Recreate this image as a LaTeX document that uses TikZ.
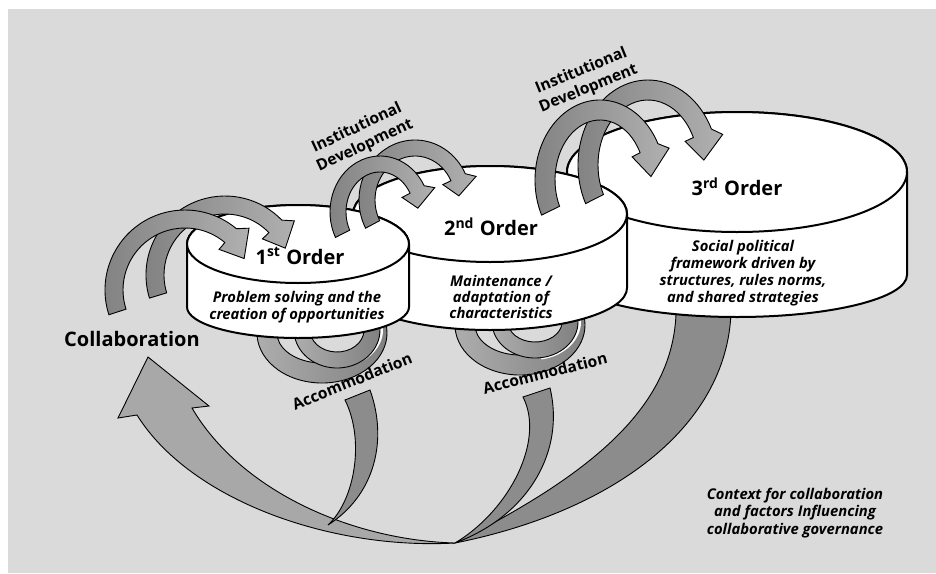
\documentclass[tikz,border=0pt]{standalone}
\usepackage{fontspec}
\setmainfont{Open Sans}
\usepackage{xcolor}

\definecolor{bggray}{RGB}{218,218,218}
\definecolor{banddark}{RGB}{128,128,128}
\definecolor{bandlight}{RGB}{176,176,176}
\definecolor{flowgray}{RGB}{140,140,140}
\definecolor{backgray}{RGB}{168,168,168}

% cylinder: cx, top cy, rx, top ry, bottom cy, bottom ry
\newcommand{\cyl}[6]{%
  \path[cylface] (#1-#3,#2) arc[start angle=180,end angle=360,x radius=#3,y radius=#4]
    -- (#1+#3,#5) arc[start angle=0,end angle=180,x radius=#3,y radius=#6] -- cycle;
  \draw[cylface] (#1,#2) ellipse[x radius=#3,y radius=#4];}

% curved band with a head: cx, cy, rx, ry, width, from, to, tip angle
\newcommand{\bandarrow}[8]{%
  \pgfmathsetmacro\rxo{#3+#5/2}\pgfmathsetmacro\ryo{#4+#5/2}%
  \pgfmathsetmacro\rxi{#3-#5/2}\pgfmathsetmacro\ryi{#4-#5/2}%
  \pgfmathsetmacro\rxh{#3+#5/2+9}\pgfmathsetmacro\ryh{#4+#5/2+9}%
  \pgfmathsetmacro\rxb{#3-#5/2-9}\pgfmathsetmacro\ryb{#4-#5/2-9}%
  \pgfmathsetmacro\rxt{#3-4}\pgfmathsetmacro\ryt{#4-4}%
  \pgfmathsetmacro\ah{#7+6}%
  \path[band,shift={(#1,#2)}] (#6:{\rxo} and {\ryo})
    arc[start angle=#6,end angle=#7,x radius=\rxo,y radius=\ryo]
    -- (\ah:{\rxh} and {\ryh}) -- (#8:{\rxt} and {\ryt}) -- (#7:{\rxb} and {\ryb})
    -- (#7:{\rxi} and {\ryi})
    arc[start angle=#7,end angle=#6,x radius=\rxi,y radius=\ryi] -- cycle;}

% open loop under a cylinder: cx, cy, rx, ry, width, from, to, style
\newcommand{\loopband}[8]{%
  \pgfmathsetmacro\rxo{#3+#5/2}\pgfmathsetmacro\ryo{#4+#5/2}%
  \pgfmathsetmacro\rxi{#3-#5/2}\pgfmathsetmacro\ryi{#4-#5/2}%
  \path[#8,shift={(#1,#2)}] (#6:{\rxo} and {\ryo})
    arc[start angle=#6,end angle=#7,x radius=\rxo,y radius=\ryo]
    -- (#7:{\rxi} and {\ryi})
    arc[start angle=#7,end angle=#6,x radius=\rxi,y radius=\ryi] -- cycle;}

\begin{document}
\begin{tikzpicture}[x=0.5pt,y=-0.5pt]
  \tikzset{cylface/.style={draw=black, fill=white, line width=1pt},
    band/.style={draw=black, line width=.45pt, left color=banddark, right color=bandlight},
    loopgray/.style={draw=black, line width=.45pt, left color=bandlight, right color=banddark},
    loopwhite/.style={fill=white},
    flow/.style={draw=black, line width=.45pt, fill=flowgray},
    backarrow/.style={draw=black, line width=.45pt, fill=backgray},
    order/.style={font=\bfseries\fontsize{10}{12}\selectfont, inner sep=0pt},
    desc/.style={font=\bfseries\itshape\fontsize{7.4}{8.2}\selectfont, align=center, inner sep=0pt},
    lbl/.style={font=\bfseries\fontsize{7.8}{9.6}\selectfont, align=center, inner sep=0pt}}
  \useasboundingbox (0,0) rectangle (936,573);
  \fill[bggray] (8,9) rectangle (936,573);

  %feed from the 3rd order
  \coordinate (meet) at (455,543);
  \path[flow] (676,300) -- (731,300) .. controls (735,420) and (620,510) .. (meet)
    .. controls (600,470) and (680,400) .. (676,300) -- cycle;

  %cylinders and loops
  \cyl{737}{172}{170}{60}{275}{42}
  \loopband{520}{325}{55}{40}{20}{200}{-20}{loopgray}
  \loopband{533}{322}{45}{35}{6}{80}{-20}{loopwhite}
  \loopband{535}{322}{35}{28}{16}{200}{-20}{loopgray}
  \cyl{490}{214}{137}{48}{288}{42}
  \loopband{322}{333}{55}{40}{20}{200}{-20}{loopgray}
  \loopband{335}{330}{45}{35}{6}{80}{-20}{loopwhite}
  \loopband{337}{330}{35}{30}{16}{200}{-20}{loopgray}
  \cyl{298}{244}{111}{39}{307}{31}

  %back to collaboration
  \path[backarrow] (meet) .. controls (330,550) and (190,500) .. (137,415) -- (118,418)
    -- (148,357) -- (209,406) -- (192,408) .. controls (240,490) and (350,540) .. (meet) -- cycle;
  \path[flow] (345,400) -- (370,390) .. controls (388,440) and (375,495) .. (328,525)
    .. controls (355,500) and (365,440) .. (345,400) -- cycle;
  \path[flow] (523,397) -- (550,388) .. controls (565,450) and (530,515) .. (meet)
    .. controls (510,510) and (545,440) .. (523,397) -- cycle;

  %arrows over the top
  \bandarrow{225}{275}{70}{70}{18}{163}{316}{336}
  \bandarrow{185}{290}{71}{71}{18}{162}{310}{332}
  \bandarrow{415}{200}{48}{52}{16}{152}{334}{355}
  \bandarrow{380}{212}{42}{48}{16}{153}{332}{355}
  \bandarrow{648}{165}{60}{75}{20}{153}{335}{356}
  \bandarrow{600}{180}{55}{70}{20}{154}{333}{357}

  %labels
  \node[order] (o1) at (300,256) {1\textsuperscript{st} Order};
  \node[desc] (d1) at (297,307) {Problem solving and the\\creation of opportunities};
  \node[order] (o2) at (491,227) {2\textsuperscript{nd} Order};
  \node[desc] (d2) at (501,297) {Maintenance /\\adaptation of\\characteristics};
  \node[order] (o3) at (737,187) {3\textsuperscript{rd} Order};
  \node[desc, font=\bfseries\itshape\fontsize{7.4}{8.4}\selectfont] (d3) at (743,273)
    {Social political\\framework driven by\\structures, rules norms,\\and shared strategies};
  \node[order] (collab) at (132,339) {Collaboration};
  \node[lbl, rotate=22] (acc1) at (352,381) {Accommodation};
  \node[lbl, rotate=14] (acc2) at (545,373) {Accommodation};
  \node[lbl, rotate=25] (inst1) at (361,137) {Institutional\\Development};
  \node[lbl, rotate=22] (inst2) at (585,80) {Institutional\\Development};
  \node[desc, font=\bfseries\itshape\fontsize{7.4}{8.6}\selectfont] (ctx) at (795,513)
    {Context for collaboration\\and factors Influencing\\collaborative governance};
\end{tikzpicture}
\end{document}
